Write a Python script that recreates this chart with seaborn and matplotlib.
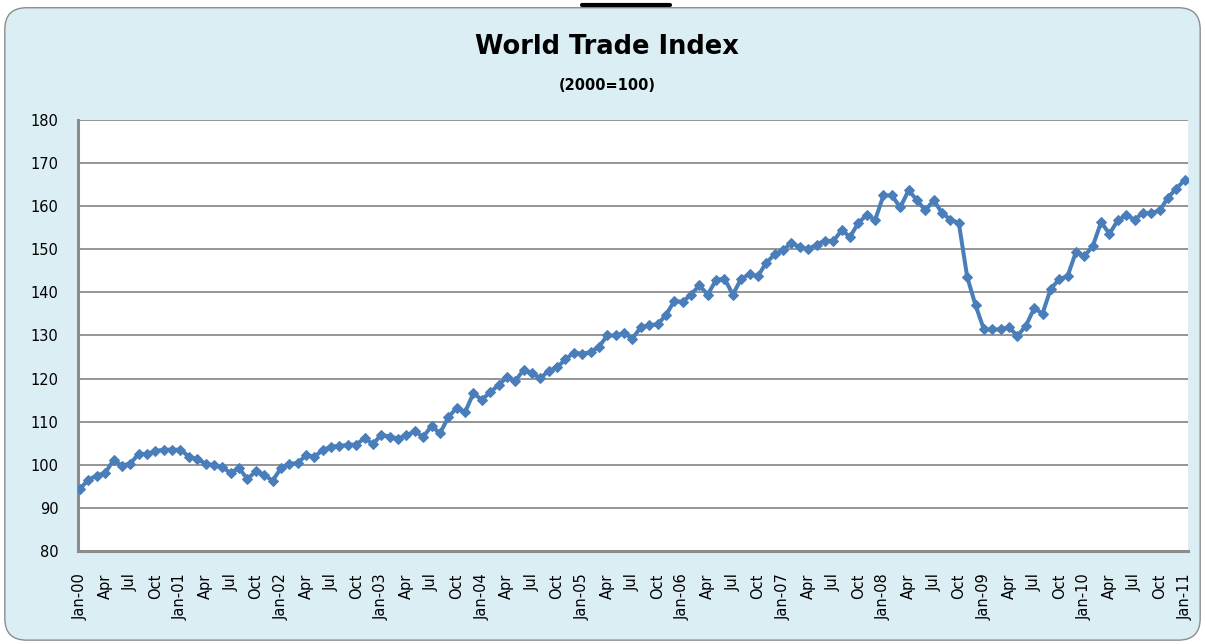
import numpy as np
import pandas as pd
import matplotlib
matplotlib.use('Agg')
import matplotlib.pyplot as plt
from matplotlib.patches import FancyBboxPatch
import seaborn as sns

# ── Data (monthly, Jan-2000 .. Jan-2011) ─────────────────────
years = ['00', '01', '02', '03', '04', '05', '06', '07', '08', '09', '10', '11']
values_2000 = [94.5, 96.5, 97.5, 98.1, 101.1, 99.8, 100.3, 102.5, 102.5, 103.2, 103.5, 103.5]
values_2001 = [103.5, 101.9, 101.3, 100.3, 99.9, 99.4, 98.1, 99.2, 96.7, 98.5, 97.7, 96.3]
values_2002 = [99.2, 100.2, 100.4, 102.2, 101.9, 103.4, 104.2, 104.4, 104.6, 104.7, 106.2, 104.8]
values_2003 = [107.0, 106.5, 106.1, 106.8, 107.8, 106.5, 109.0, 107.3, 111.0, 113.2, 112.2, 116.6]
values_2004 = [115.1, 116.8, 118.5, 120.3, 119.5, 122.0, 121.2, 120.1, 121.8, 122.6, 124.5, 126.0]
values_2005 = [125.8, 126.1, 127.4, 130.0, 130.0, 130.5, 129.3, 131.9, 132.4, 132.6, 134.7, 138.0]
values_2006 = [137.8, 139.5, 141.6, 139.5, 142.9, 143.2, 139.5, 143.2, 144.2, 143.8, 146.9, 148.8]
values_2007 = [149.8, 151.5, 150.5, 150.0, 151.1, 152.0, 151.9, 154.4, 152.9, 156.1, 158.0, 156.8]
values_2008 = [162.5, 162.5, 159.7, 163.7, 161.4, 159.0, 161.4, 158.4, 156.9, 156.1, 143.6, 137.0]
values_2009 = [131.4, 131.4, 131.4, 131.9, 129.9, 132.2, 136.3, 135.1, 140.9, 143.0, 143.8, 149.4]
values_2010 = [148.4, 150.7, 156.3, 153.6, 156.7, 157.9, 156.9, 158.4, 158.4, 159.0, 162.0, 164.1]
values_2011 = [166.1]

index_values = (values_2000 + values_2001 + values_2002 + values_2003 + values_2004 +
                values_2005 + values_2006 + values_2007 + values_2008 + values_2009 +
                values_2010 + values_2011)

month_names = ['Jan', 'Feb', 'Mar', 'Apr', 'May', 'Jun',
               'Jul', 'Aug', 'Sep', 'Oct', 'Nov', 'Dec']
months = [f'{m}-{y}' for y in years for m in month_names][:len(index_values)]

df = pd.DataFrame({'month': months, 'pos': np.arange(len(months)), 'index': index_values})

# tick labels: every quarter, full label only in January
tick_pos = df['pos'][::3]
tick_lab = [m if m.startswith('Jan') else m[:3] for m in df['month'][::3]]

# ── Figure ───────────────────────────────────────────────────
sns.set_style('white')
plt.rcParams['font.family'] = ['DejaVu Sans']

fig = plt.figure(figsize=(12.05, 6.44), dpi=100)
fig.patch.set_facecolor('white')

# rounded light-blue chart area
box = FancyBboxPatch((0.004, 0.006), 0.992, 0.982,
                     boxstyle='round,pad=0,rounding_size=0.018',
                     transform=fig.transFigure, facecolor='#DBEEF4',
                     edgecolor='#8C8C8C', linewidth=1.0, mutation_aspect=1.87,
                     zorder=-5)
fig.patches.append(box)

# cut-off underline of the caption above the chart
fig.add_artist(plt.Line2D([0.483, 0.556], [0.9925, 0.9925], transform=fig.transFigure,
                          color='black', linewidth=3))

ax = fig.add_axes([0.0647, 0.1444, 0.9213, 0.6693])
ax.set_zorder(2)
ax.set_facecolor('white')

sns.lineplot(data=df, x='pos', y='index', ax=ax, color='#4A7EBB', linewidth=2.9,
             marker='D', markersize=5.5, markeredgecolor='#4A7EBB', zorder=3)

ax.set_xlim(-0.25, 132.4)
ax.set_ylim(80, 180)
ax.set_yticks(np.arange(80, 181, 10))
ax.set_xticks(tick_pos)
ax.set_xticklabels(tick_lab, rotation=90, fontsize=10.5)
ax.tick_params(axis='y', labelsize=10.5, length=0, pad=14, colors='black')
ax.tick_params(axis='x', length=0, pad=16, colors='black')
ax.set_xlabel('')
ax.set_ylabel('')

ax.yaxis.grid(True, color='#8C8C8C', linewidth=1.3)
ax.xaxis.grid(False)
ax.set_axisbelow(True)
for side in ['top', 'right']:
    ax.spines[side].set_visible(False)
for side in ['left', 'bottom']:
    ax.spines[side].set_color('#8C8C8C')
    ax.spines[side].set_linewidth(2.2)

fig.text(0.504, 0.927, 'World Trade Index', ha='center', va='center', color='black',
         fontsize=18.5, fontweight='bold')
fig.text(0.504, 0.868, '(2000=100)', ha='center', va='center', color='black',
         fontsize=10.5, fontweight='bold')

plt.savefig('out.png', dpi=100, facecolor=fig.get_facecolor())
